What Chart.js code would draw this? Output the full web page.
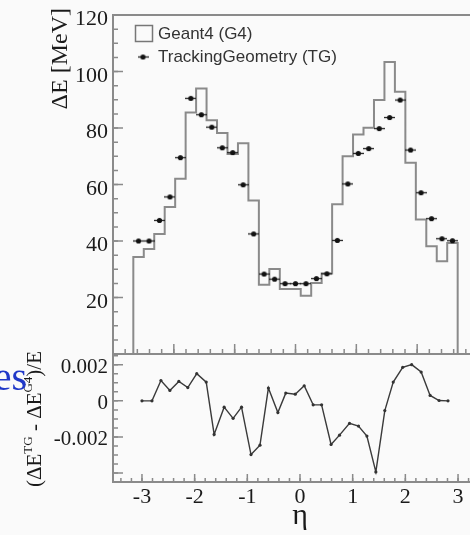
<!DOCTYPE html>
<html>
<head>
<meta charset="utf-8">
<script src="https://cdn.jsdelivr.net/npm/chart.js@4.4.1/dist/chart.umd.min.js"></script>
<style>
  html, body { margin: 0; padding: 0; background: #fafafa; overflow: hidden; }
  #wrap { position: relative; width: 470px; height: 535px; overflow: hidden; background: #fafafa; }
  canvas { position: absolute; left: 0; }
  #cTop { top: 0; }
  #cBot { top: 340px; }
</style>
</head>
<body>
<div id="wrap">
  <canvas id="cTop" width="500" height="360" style="width:500px;height:360px"></canvas>
  <canvas id="cBot" width="500" height="195" style="width:500px;height:195px"></canvas>
</div>
<script>
// ---- energy loss per eta bin ----
const G4_LABEL = 'Geant4 (G4)';
const TG_LABEL = 'TrackingGeometry (TG)';

const binCenters = [-2.580, -2.408, -2.236, -2.064, -1.892, -1.720, -1.548, -1.376, -1.204, -1.032,
                    -0.860, -0.688, -0.516, -0.344, -0.172, 0.000, 0.172, 0.344, 0.516, 0.688,
                    0.860, 1.032, 1.204, 1.376, 1.548, 1.720, 1.892, 2.064, 2.236, 2.408, 2.580];

const g4Energy = [34.3, 37.2, 42.5, 52.0, 62.0, 85.5, 94.0, 82.7, 78.2, 70.8,
                  74.6, 54.3, 24.5, 30.1, 23.0, 23.0, 20.6, 25.1, 28.5, 53.0,
                  70.0, 77.7, 80.1, 89.9, 103.4, 92.8, 67.7, 47.6, 38.1, 32.8, 39.3];

const tgEnergy = [40.0, 40.0, 47.3, 55.6, 69.5, 90.5, 84.7, 80.3, 73.0, 71.3,
                  59.9, 42.5, 28.3, 26.5, 24.9, 24.9, 24.9, 26.7, 28.4, 40.2,
                  60.2, 71.0, 72.7, 79.8, 83.7, 89.9, 72.2, 57.1, 47.9, 40.8, 40.1];

// ---- relative difference (TG - G4)/E ----
const ratioEta = [-3.00, -2.81, -2.64, -2.47, -2.30, -2.13, -1.96, -1.78, -1.63, -1.44,
                  -1.27, -1.11, -0.93, -0.76, -0.60, -0.42, -0.27, -0.09, 0.08, 0.25,
                  0.41, 0.59, 0.75, 0.94, 1.11, 1.27, 1.44, 1.61, 1.77, 1.95,
                  2.12, 2.30, 2.47, 2.64, 2.81];

const ratioValues = [0, 0, 0.00113, 0.00058, 0.00108, 0.00074, 0.00151, 0.00104, -0.00186, -0.00035,
                     -0.00097, -0.00035, -0.00298, -0.00246, 0.00071, -0.00065, 0.00043, 0.00037, 0.00084, -0.00022,
                     -0.00022, -0.00242, -0.00190, -0.00125, -0.00140, -0.00195, -0.00394, -0.00054, 0.00104, 0.00186,
                     0.00201, 0.00160, 0.00030, 0.00002, 0];

// ---- axis labels ----
const energyTicks = [20, 40, 60, 80, 100, 120];
const ratioTicks = [0.002, 0, -0.002];
const ratioTickLabels = ['0.002', '0', '-0.002'];
const etaTicks = [-3, -2, -1, 0, 1, 2, 3];
const etaTickLabels = ['-3', '-2', '-1', '0', '1', '2', '3'];

const SERIF = '"Liberation Serif", "Times New Roman", serif';
const SANS = '"Liberation Sans", Arial, sans-serif';
const FRAME = '#8a8a8a';
const INK = '#1a1a1a';

// histogram outline as a stepped path over the bin edges
const halfBin = (binCenters[1] - binCenters[0]) / 2;
const histPoints = [{ x: binCenters[0] - halfBin, y: 0 }];
binCenters.forEach((c, i) => histPoints.push({ x: c - halfBin, y: g4Energy[i] }));
const lastBin = binCenters.length - 1;
histPoints.push({ x: binCenters[lastBin] + halfBin, y: g4Energy[lastBin] });
histPoints.push({ x: binCenters[lastBin] + halfBin, y: 0 });

const tgPoints = binCenters.map((c, i) => ({ x: c, y: tgEnergy[i] }));
const ratioPoints = ratioEta.map((e, i) => ({ x: e, y: ratioValues[i] }));

// marker: filled dot with a short horizontal bar
function makeMarker() {
  const c = document.createElement('canvas');
  c.width = 11; c.height = 7;
  const g = c.getContext('2d');
  g.strokeStyle = '#222'; g.lineWidth = 1.3;
  g.beginPath(); g.moveTo(0, 3.5); g.lineTo(11, 3.5); g.stroke();
  g.fillStyle = '#111';
  g.beginPath(); g.arc(5.5, 3.5, 2.6, 0, Math.PI * 2); g.fill();
  return c;
}

// inward tick marks along one axis
function drawTicks(ctx, scale, orient, edge, step, len) {
  const lo = Math.ceil(scale.min / step - 1e-9), hi = Math.floor(scale.max / step + 1e-9);
  ctx.beginPath();
  for (let k = lo; k <= hi; k++) {
    const p = scale.getPixelForValue(k * step);
    if (orient === 'y') { ctx.moveTo(edge, p); ctx.lineTo(edge + len, p); }
    else { ctx.moveTo(p, edge); ctx.lineTo(p, edge - len); }
  }
  ctx.stroke();
}

// left, top and bottom sides of the frame (the right side lies past the page edge)
function drawFrame(ctx, a) {
  ctx.strokeStyle = FRAME;
  ctx.lineWidth = 2;
  ctx.beginPath();
  ctx.moveTo(a.right, a.top); ctx.lineTo(a.left, a.top);
  ctx.lineTo(a.left, a.bottom); ctx.lineTo(a.right, a.bottom);
  ctx.stroke();
}

const topDecor = {
  id: 'topDecor',
  afterDatasetsDraw(chart) {
    const { ctx, chartArea: a, scales: { x, y } } = chart;
    ctx.save();
    drawFrame(ctx, a);
    ctx.strokeStyle = FRAME; ctx.lineWidth = 1.5;
    drawTicks(ctx, y, 'y', a.left, 5, 5);
    drawTicks(ctx, y, 'y', a.left, 20, 10);
    drawTicks(ctx, x, 'x', a.bottom, 0.2, 5);
    drawTicks(ctx, x, 'x', a.bottom, 1, 10);

    // tick labels
    ctx.fillStyle = INK;
    ctx.font = '22px ' + SERIF;
    ctx.textAlign = 'right';
    ctx.textBaseline = 'alphabetic';
    energyTicks.forEach(v => ctx.fillText(String(v), a.left - 5, y.getPixelForValue(v) + 10));

    // axis title
    ctx.save();
    ctx.translate(67, 8);
    ctx.rotate(-Math.PI / 2);
    ctx.font = '24px ' + SERIF;
    ctx.textAlign = 'right';
    ctx.fillText('\u0394E [MeV]', 0, 0);
    ctx.restore();

    // legend
    ctx.strokeStyle = '#777'; ctx.lineWidth = 1.5;
    ctx.strokeRect(135.5, 25.5, 17, 16);
    ctx.drawImage(tgMarker, 143 - 5.5, 57 - 3.5);
    ctx.fillStyle = '#333';
    ctx.font = '17px ' + SANS;
    ctx.textAlign = 'left';
    ctx.textBaseline = 'middle';
    ctx.fillText(G4_LABEL, 158, 34);
    ctx.fillText(TG_LABEL, 158, 57);
    ctx.restore();
  }
};

const botDecor = {
  id: 'botDecor',
  afterDatasetsDraw(chart) {
    const { ctx, chartArea: a, scales: { x, y } } = chart;
    ctx.save();
    drawFrame(ctx, a);
    ctx.strokeStyle = FRAME; ctx.lineWidth = 1.5;
    drawTicks(ctx, y, 'y', a.left, 0.0005, 5);
    drawTicks(ctx, y, 'y', a.left, 0.002, 10);
    drawTicks(ctx, x, 'x', a.bottom, 0.2, 4);
    drawTicks(ctx, x, 'x', a.bottom, 1, 8);

    ctx.fillStyle = INK;
    ctx.font = '21px ' + SERIF;
    ctx.textAlign = 'right';
    ctx.textBaseline = 'alphabetic';
    ratioTicks.forEach((v, i) => ctx.fillText(ratioTickLabels[i], a.left - 5, y.getPixelForValue(v) + 8));

    ctx.textAlign = 'center';
    ctx.font = '22px ' + SERIF;
    etaTicks.forEach((v, i) => ctx.fillText(etaTickLabels[i], x.getPixelForValue(v), a.bottom + 21));

    ctx.font = '30px ' + SERIF;
    ctx.fillText('\u03b7', x.getPixelForValue(0), a.bottom + 42);

    // rotated title with superscripts, reading upward
    const parts = [['(\u0394E', false], ['TG', true], [' - \u0394E', false], ['G4', true], [')/E', false]];
    ctx.save();
    ctx.translate(41, a.bottom + 5);
    ctx.rotate(-Math.PI / 2);
    ctx.textAlign = 'left';
    let cur = 0;
    parts.forEach(([t, sup]) => {
      ctx.font = (sup ? '13px ' : '21px ') + SERIF;
      ctx.fillText(t, cur, sup ? -9 : 0);
      cur += ctx.measureText(t).width;
    });
    ctx.restore();

    // word fragment at the left margin
    ctx.fillStyle = '#2038c8';
    ctx.font = '40px ' + SERIF;
    ctx.textAlign = 'right';
    ctx.fillText('es', 27, 50);
    ctx.restore();
  }
};

const tgMarker = makeMarker();

new Chart(document.getElementById('cTop'), {
  type: 'scatter',
  data: {
    datasets: [
      { label: G4_LABEL, type: 'line', data: histPoints, stepped: 'before', borderColor: '#8a8a8a',
        borderWidth: 2, pointRadius: 0, fill: false, order: 2 },
      { label: TG_LABEL, type: 'scatter', data: tgPoints, pointStyle: tgMarker, pointRadius: 4, order: 1 }
    ]
  },
  options: {
    responsive: false, animation: false, devicePixelRatio: 1,
    layout: { padding: { left: 113, top: 15, right: 22, bottom: 6 } },
    plugins: { legend: { display: false }, tooltip: { enabled: false } },
    scales: {
      x: { type: 'linear', min: -3, max: 3, display: false },
      y: { type: 'linear', min: 0, max: 120, display: false }
    }
  },
  plugins: [topDecor]
});

new Chart(document.getElementById('cBot'), {
  type: 'line',
  data: {
    datasets: [
      { label: '(TG - G4)/E', data: ratioPoints, borderColor: '#3a3a3a', borderWidth: 1.4,
        pointRadius: 1.6, pointBackgroundColor: '#333', pointBorderWidth: 0, tension: 0, fill: false }
    ]
  },
  options: {
    responsive: false, animation: false, devicePixelRatio: 1,
    layout: { padding: { left: 113, top: 14, right: 13, bottom: 53 } },
    plugins: { legend: { display: false }, tooltip: { enabled: false } },
    scales: {
      x: { type: 'linear', min: -3.55, max: 3.55, display: false },
      y: { type: 'linear', min: -0.0045, max: 0.0026, display: false }
    }
  },
  plugins: [botDecor]
});
</script>
</body>
</html>
